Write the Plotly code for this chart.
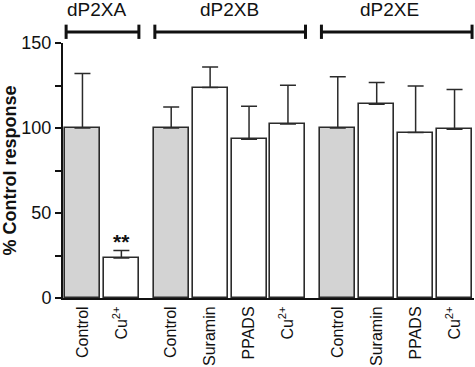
import plotly.graph_objects as go

# ---- data ----
groups = ["dP2XA", "dP2XB", "dP2XE"]
conditions_A = ["Control", "Cu<sup>2+</sup>"]
conditions_B = ["Control", "Suramin", "PPADS", "Cu<sup>2+</sup>"]
conditions_E = ["Control", "Suramin", "PPADS", "Cu<sup>2+</sup>"]
means_A = [100, 23.5]
means_B = [100, 123.8, 93.4, 102.4]
means_E = [100, 113.9, 97.3, 99.2]
err_A = [32, 4.5]
err_B = [12.4, 12.1, 19.4, 22.7]
err_E = [30.2, 12.8, 27.4, 23.4]
y_ticks = [0, 50, 100, 150]
significance_A = ["", "**"]

# ---- layout helpers ----
GROUP_GAP = 0.28
BAR_W = 0.9
CTRL_FILL = "#d3d3d3"
EDGE = "#2b2b2b"

all_conds = [conditions_A, conditions_B, conditions_E]
all_means = [means_A, means_B, means_E]
all_errs = [err_A, err_B, err_E]

xs, labels, ys, es, fills, group_span = [], [], [], [], [], []
pos = 0.0
for gi, (conds, ms, ers) in enumerate(zip(all_conds, all_means, all_errs)):
    start = pos
    for ci, (c, m, e) in enumerate(zip(conds, ms, ers)):
        xs.append(pos)
        labels.append(c)
        ys.append(m)
        es.append(e)
        fills.append(CTRL_FILL if c == "Control" else "white")
        pos += 1
    group_span.append((start, pos - 1))
    pos += GROUP_GAP

x_min = -0.5
x_max = xs[-1] + 0.5

fig = go.Figure()
fig.add_trace(go.Bar(
    x=xs, y=ys, width=BAR_W,
    marker=dict(color=fills, line=dict(color=EDGE, width=1.6)),
    error_y=dict(type="data", symmetric=False, array=es, arrayminus=[0] * len(es),
                 color=EDGE, thickness=1.5, width=8),
    hoverinfo="skip", showlegend=False,
))

def to_paper(x):
    return (x - x_min) / (x_max - x_min)

shapes = []
annotations = []
label_shift = [-0.15, 0.0, -0.17]
for (a, b), name, sh in zip(group_span, groups, label_shift):
    x0 = to_paper(a - BAR_W / 2 + 0.03)
    x1 = to_paper(b + BAR_W / 2)
    shapes.append(dict(type="line", xref="paper", yref="paper", x0=x0, x1=x1,
                       y0=1.043, y1=1.043, line=dict(color="#111", width=3)))
    for xe in (x0, x1):
        shapes.append(dict(type="line", xref="paper", yref="paper", x0=xe, x1=xe,
                           y0=1.016, y1=1.072, line=dict(color="#111", width=3)))
    annotations.append(dict(x=to_paper((a + b) / 2 + sh), y=1.132, xref="paper", yref="paper",
                            text=name, showarrow=False, xanchor="center", yanchor="middle",
                            font=dict(family="Liberation Sans, Arial", size=19, color="#111")))

for xi, yi, ei, s in zip(xs[:2], means_A, err_A, significance_A):
    if s:
        annotations.append(dict(x=xi, y=yi + ei, xref="x", yref="y", text="<b>" + s + "</b>",
                                showarrow=False, xanchor="center", yanchor="bottom", yshift=-5,
                                font=dict(family="Liberation Sans, Arial", size=21, color="#111")))

minor_vals = list(range(0, 151, 25))
fig.update_layout(
    width=475, height=367,
    margin=dict(l=63, r=1, t=43, b=69, autoexpand=False),
    plot_bgcolor="white", paper_bgcolor="white",
    font=dict(family="Liberation Sans, Arial", size=16, color="#111"),
    shapes=shapes, annotations=annotations,
    bargap=0,
    xaxis=dict(range=[x_min, x_max], tickvals=xs, ticktext=labels, tickangle=-90,
               showline=True, linecolor="#111", linewidth=2, ticks="", showgrid=False,
               zeroline=False, tickfont=dict(size=16), automargin=False),
    yaxis=dict(range=[0, 150], tickvals=minor_vals,
               ticktext=[str(v) if v in y_ticks else "" for v in minor_vals],
               showline=True, linecolor="#111", linewidth=2, ticks="outside",
               ticklen=6, tickwidth=1.5, tickcolor="#111", showgrid=False, zeroline=False,
               tickfont=dict(size=18), automargin=False,
               title=dict(text="<b>% Control response</b>", font=dict(size=18), standoff=5)),
)

fig.write_html("out.html", config={"displayModeBar": False},
               post_script="document.body.style.margin='0px';document.body.style.overflow='hidden';")
